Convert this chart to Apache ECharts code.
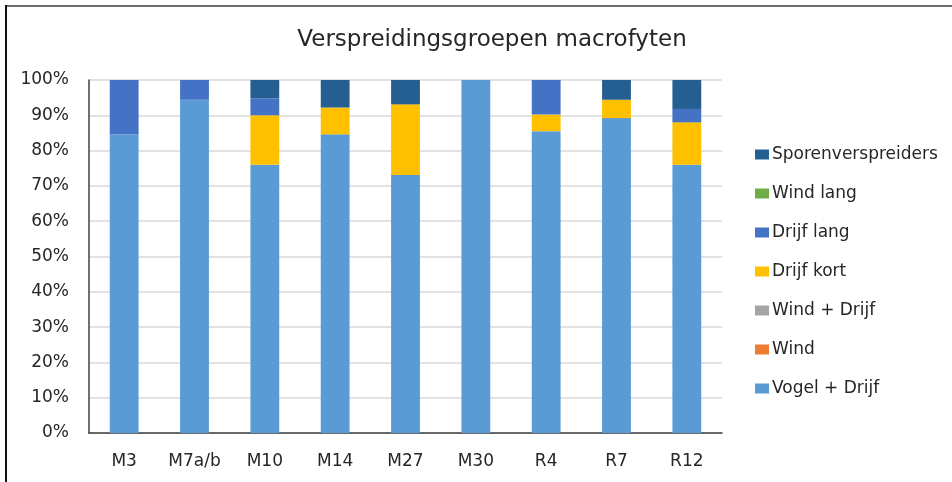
<!DOCTYPE html>
<html>
<head>
<meta charset="utf-8">
<script src="https://cdn.jsdelivr.net/npm/echarts@6/dist/echarts.min.js"></script>
<style>
  html, body { margin: 0; padding: 0; background: #fff; }
  #wrap { position: relative; width: 952px; height: 482px; overflow: hidden; }
  #chart { position: absolute; left: 0; top: 0; width: 952px; height: 482px; }
  .frame-top { position: absolute; left: 5px; top: 5px; width: 947px; height: 2px; background: #6b6b6b; }
  .frame-left { position: absolute; left: 5px; top: 5px; width: 2px; height: 477px; background: #111; }
</style>
</head>
<body>
<div id="wrap">
  <div id="chart"></div>
  <div class="frame-top"></div>
  <div class="frame-left"></div>
</div>
<script>
// meetlocaties
const locaties = ['M3', 'M7a/b', 'M10', 'M14', 'M27', 'M30', 'R4', 'R7', 'R12'];

// aandelen per verspreidingsgroep (%)
const vogelDrijf  = [84.6, 94.4, 76.0, 84.6, 73.1, 100, 85.5, 89.2, 76.0];
const wind        = [0, 0, 0, 0, 0, 0, 0, 0, 0];
const windDrijf   = [0, 0, 0, 0, 0, 0, 0, 0, 0];
const drijfKort   = [0, 0, 14.0, 7.6, 20.0, 0, 4.7, 5.2, 12.0];
const drijfLang   = [15.4, 5.6, 4.8, 0, 0, 0, 9.8, 0, 3.8];
const windLang    = [0, 0, 0, 0, 0, 0, 0, 0, 0];
const sporen      = [0, 0, 5.2, 7.8, 6.9, 0, 0, 5.6, 8.2];

const groepen = [
  { name: 'Vogel + Drijf', data: vogelDrijf, color: '#5B9BD5' },
  { name: 'Wind', data: wind, color: '#ED7D31' },
  { name: 'Wind + Drijf', data: windDrijf, color: '#A5A5A5' },
  { name: 'Drijf kort', data: drijfKort, color: '#FFC000' },
  { name: 'Drijf lang', data: drijfLang, color: '#4472C4' },
  { name: 'Wind lang', data: windLang, color: '#70AD47' },
  { name: 'Sporenverspreiders', data: sporen, color: '#255E91' }
];

const font = '"DejaVu Sans", sans-serif';
const chart = echarts.init(document.getElementById('chart'));

chart.setOption({
  animation: false,
  title: {
    text: 'Verspreidingsgroepen macrofyten',
    left: 487, top: 24, textAlign: 'center',
    textStyle: { fontFamily: font, fontSize: 23, fontWeight: 'normal', color: '#262626' }
  },
  legend: {
    orient: 'vertical',
    left: 750, top: 141,
    itemWidth: 14, itemHeight: 10, itemGap: 22,
    icon: 'rect',
    data: groepen.map(g => g.name).reverse(),
    textStyle: { fontFamily: font, fontSize: 17, color: '#262626', padding: [0, 0, 0, -2] }
  },
  grid: { left: 89, right: 230, top: 80, bottom: 49 },
  xAxis: {
    type: 'category',
    data: locaties,
    axisLine: { lineStyle: { color: '#404040', width: 1.5 } },
    axisTick: { show: false },
    axisLabel: { fontFamily: font, fontSize: 17, color: '#262626', margin: 20 }
  },
  yAxis: {
    type: 'value',
    min: 0, max: 100, interval: 10,
    axisLine: { show: true, lineStyle: { color: '#404040', width: 1.5 } },
    axisTick: { show: false },
    splitLine: { lineStyle: { color: '#D9D9D9', width: 1.5 } },
    axisLabel: { fontFamily: font, fontSize: 17, color: '#262626', margin: 20, formatter: '{value}%' }
  },
  series: groepen.map(g => ({
    name: g.name,
    type: 'bar',
    stack: 'totaal',
    barWidth: '41%',
    data: g.data,
    itemStyle: { color: g.color }
  }))
});
</script>
</body>
</html>
